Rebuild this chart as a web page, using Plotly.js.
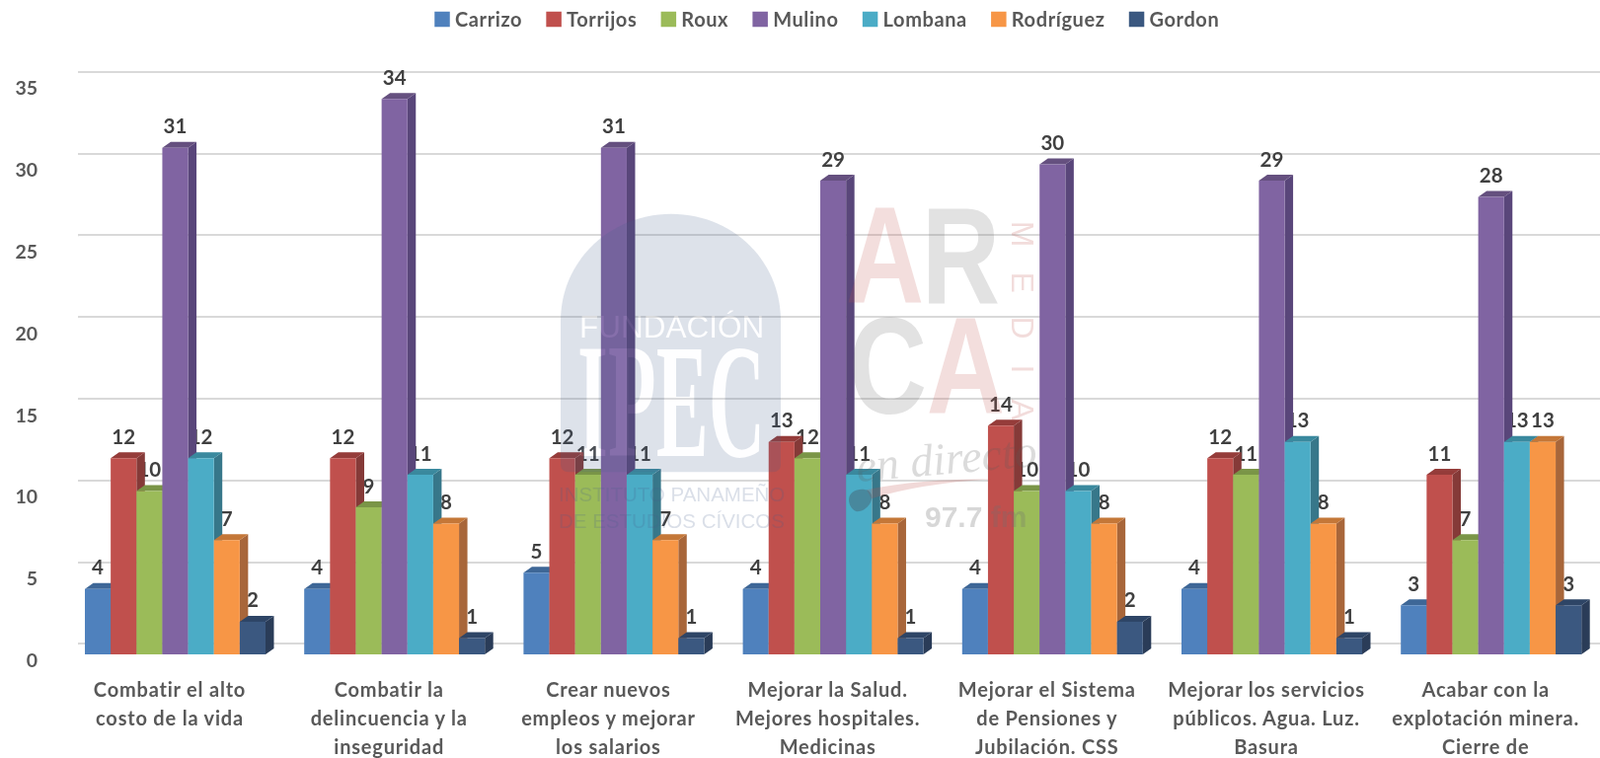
<!DOCTYPE html>
<html><head><meta charset="utf-8">
<script src="https://cdn.plot.ly/plotly-3.0.1.min.js"></script>
<style>html,body{margin:0;padding:0;background:#fff;overflow:hidden}#chart{width:1621px;height:768px}
.xtick text{letter-spacing:.8px}.legendtext{letter-spacing:.6px}</style>
</head><body><div id="chart"></div>
<script>
const categoryLines = [
  ["Combatir el alto","costo de la vida"],
  ["Combatir la","delincuencia y la","inseguridad"],
  ["Crear nuevos","empleos y mejorar","los salarios"],
  ["Mejorar la Salud.","Mejores hospitales.","Medicinas"],
  ["Mejorar el Sistema","de Pensiones y","Jubilación. CSS"],
  ["Mejorar los servicios","públicos. Agua. Luz.","Basura"],
  ["Acabar con la","explotación minera.","Cierre de"]
];
const seriesNames = ["Carrizo","Torrijos","Roux","Mulino","Lombana","Rodríguez","Gordon"];
const carrizo   = [4,4,5,4,4,4,3];
const torrijos  = [12,12,12,13,14,12,11];
const roux      = [10,9,11,12,10,11,7];
const mulino    = [31,34,31,29,30,29,28];
const lombana   = [12,11,11,11,10,13,13];
const rodriguez = [7,8,7,8,8,8,13];
const gordon    = [2,1,1,1,2,1,3];
const seriesValues = [carrizo,torrijos,roux,mulino,lombana,rodriguez,gordon];
const frontColors = ["#4F81BD","#C0504D","#9BBB59","#8064A2","#4BACC6","#F79646","#3B5880"];
const topColors   = ["#3E6797","#953C3A","#7A9547","#65507F","#3A899E","#C47738","#2E4566"];
const sideColors  = ["#37597F","#853A38","#6C8340","#59467A","#37778A","#A8663A","#2A3C58"];
const yTicks = [0,5,10,15,20,25,30,35];

/* page geometry */
const L=79, R=1621, T=40, B=663, unitY=16.58, unitX=222.2, center0=177.5;
const xRange=[(L-center0)/unitX,(R-center0)/unitX];
const frontRange=[0,(B-T)/unitY];
const backBase=652.3;
const backRange=[(backBase-B)/unitY,(backBase-T)/unitY];
const groupW=183/unitX, barW=groupW/7, depthX=8.5/unitX, depthY=6/unitY, labelLift=1.18, tickNudge=5.5/unitX;
const px=x=>(x-L)/(R-L), py=y=>(B-y)/(B-T);

const traces=[];
const barLeft=(c,i)=>c-groupW/2+i*barW;
/* data labels sit lowest: neighbouring 3D faces cover them */
seriesValues.forEach((vals,i)=>{
  traces.push({type:'scatter',mode:'text',x:vals.map((_,c)=>barLeft(c,i)+barW/2),y:vals.map(v=>v+labelLift),
    text:vals.map(String),textposition:'middle center',cliponaxis:false,
    textfont:{family:'Lato, "Open Sans", sans-serif',size:20.5,weight:700,color:'#404040'},showlegend:false,hoverinfo:'skip'});
});
/* 3D side and top faces */
seriesValues.forEach((vals,i)=>{
  const sx=[],sy=[],tx=[],ty=[];
  vals.forEach((v,c)=>{
    const l=barLeft(c,i),r=l+barW;
    sx.push(r,r+depthX,r+depthX,r,r,null); sy.push(0,depthY,v+depthY,v,0,null);
    tx.push(l,l+depthX,r+depthX,r,l,null); ty.push(v,v+depthY,v+depthY,v,v,null);
  });
  traces.push({type:'scatter',mode:'lines',x:sx,y:sy,fill:'toself',fillcolor:sideColors[i],line:{width:0},showlegend:false,hoverinfo:'skip'});
  traces.push({type:'scatter',mode:'lines',x:tx,y:ty,fill:'toself',fillcolor:topColors[i],line:{width:0},showlegend:false,hoverinfo:'skip'});
});
/* wall grid and its diagonal floor ticks */
const dx=[],dy=[];
yTicks.forEach(v=>{dx.push(xRange[0]-22/unitX,xRange[0],null);dy.push(v-16/unitY,v,null);});
traces.push({type:'scatter',mode:'lines',x:dx,y:dy,yaxis:'y3',cliponaxis:false,line:{color:'#D9D9D9',width:2},showlegend:false,hoverinfo:'skip'});
/* front faces */
seriesValues.forEach((vals,i)=>{
  traces.push({type:'bar',name:seriesNames[i],x:vals.map((_,c)=>c),y:vals,yaxis:'y2',marker:{color:frontColors[i],line:{width:0}}});
});

const wrapLine=l=>'<span style="font-size:20px">'+l+'</span>';
const tickText=categoryLines.map(ls=>ls.map(wrapLine).join('<br>'));

const note=(text,x,y,size,color,extra)=>Object.assign({text,x:px(x),y:py(y),xref:'paper',yref:'paper',showarrow:false,
  xanchor:'center',yanchor:'middle',font:{family:'Liberation Sans',size,color}},extra||{});
const P=(pts)=>pts.map(s=>typeof s==='string'?s:(px(s[0]).toFixed(5)+','+py(s[1]).toFixed(5))).join(' ');
const pink='rgba(192,80,77,0.19)', grey='rgba(110,110,110,0.2)';
const big=c=>({font:{family:'Liberation Sans',size:140,weight:700,color:c}});
const annotations=[
  note('A',896,258,140,pink,big(pink)),
  note('R',973,258,140,grey,big(grey)),
  note('C',899,370,140,grey,big(grey)),
  note('A',978,370,140,pink,big(pink)),
  note('M',1036,236,32,'rgba(192,80,77,0.2)',{textangle:90}),
  note('E',1036,285,32,'rgba(192,80,77,0.2)',{textangle:90}),
  note('D',1036,331,32,'rgba(192,80,77,0.2)',{textangle:90}),
  note('I',1036,373,32,'rgba(192,80,77,0.2)',{textangle:90}),
  note('A',1036,415,32,'rgba(192,80,77,0.2)',{textangle:90}),
  note('en directo',959,464,46,'rgba(90,90,90,0.22)',{textangle:-5,font:{family:'Liberation Serif',size:46,style:'italic',color:'rgba(90,90,90,0.22)'}}),
  note('97.7 fm',988,523,30,'rgba(110,110,110,0.28)',{font:{family:'Liberation Sans',size:30,weight:700,color:'rgba(110,110,110,0.28)'}}),
  note('INSTITUTO PANAMEÑO',680,500,20.5,'rgba(68,97,138,0.2)'),
  note('DE ESTUDIOS CÍVICOS',680,527,20.5,'rgba(68,97,138,0.2)'),
  note('FUNDACIÓN',680,330,31.5,'rgb(33,28,21)'),
  note('IPEC',680,406,165,'rgb(33,28,21)',{font:{family:'Liberation Serif',size:165,weight:700,color:'rgb(33,28,21)'}})
];
const arch='M '+P([[568,470]])+' L '+P([[568,325]])+' C '+P([[568,262],[620,216],[680,216]])+' C '+P([[741,216],[791,262],[791,325]])+
  ' L '+P([[791,470]])+' Q '+P([[791,478],[783,478]])+' L '+P([[576,478]])+' Q '+P([[568,478],[568,470]])+' Z';
const swoosh='M '+P([[878,496]])+' Q '+P([[930,485],[1005,485]])+' Q '+P([[930,490],[883,505]])+' Z';
const dot='M '+P([[860,506]])+' C '+P([[860,497],[872,493],[880,497]])+' C '+P([[888,503],[880,518],[868,518]])+' C '+P([[864,517],[860,512],[860,506]])+' Z';
const shapes=[
  {type:'path',xref:'paper',yref:'paper',path:arch,fillcolor:'rgba(68,97,138,0.18)',line:{width:0},layer:'above'},
  {type:'path',xref:'paper',yref:'paper',path:swoosh,fillcolor:'rgba(192,80,77,0.22)',line:{width:0},layer:'above'},
  {type:'path',xref:'paper',yref:'paper',path:dot,fillcolor:'rgba(70,85,100,0.42)',line:{width:0},layer:'above'}
];

const layout={
  width:1621,height:768,paper_bgcolor:'#fff',plot_bgcolor:'rgba(0,0,0,0)',
  margin:{l:L,r:0,t:T,b:768-B,pad:0},
  barmode:'group',bargap:1-groupW,bargroupgap:0,
  font:{family:'Lato, "Open Sans", sans-serif',color:'#595959'},
  showlegend:true,
  legend:{orientation:'h',x:px(838),xanchor:'center',y:py(18.6),yanchor:'middle',itemgap:2,
    font:{family:'Lato, "Open Sans", sans-serif',size:20,weight:700,color:'#595959'},bgcolor:'rgba(0,0,0,0)',traceorder:'normal'},
  xaxis:{range:xRange,tickmode:'array',tickvals:categoryLines.map((_,i)=>i-tickNudge),ticktext:tickText,tickangle:0,
    showgrid:false,zeroline:false,showline:false,ticks:'outside',ticklen:15,tickcolor:'rgba(0,0,0,0)',
    tickfont:{family:'Lato, "Open Sans", sans-serif',size:22.4,weight:700,color:'#595959'}},
  yaxis:{range:frontRange,tickmode:'array',tickvals:yTicks,showgrid:false,zeroline:false,showline:false,
    ticks:'outside',ticklen:36,tickcolor:'rgba(0,0,0,0)',ticklabelshift:6,
    tickfont:{family:'Lato, "Open Sans", sans-serif',size:19.5,weight:700,color:'#595959'}},
  yaxis2:{range:frontRange,overlaying:'y',visible:false},
  yaxis3:{range:backRange,overlaying:'y',tickmode:'array',tickvals:yTicks,showgrid:true,gridcolor:'#D9D9D9',gridwidth:2,
    zeroline:false,showline:false,showticklabels:false,ticks:''},
  annotations,shapes
};
const gd=document.getElementById('chart');
const squeeze=(t,k)=>{const b=t.getBBox(),cx=b.x+b.width/2;t.setAttribute('transform','translate('+(cx*(1-k))+',0) scale('+k+',1)');};
Plotly.newPlot(gd,traces,layout,{displayModeBar:false,responsive:false}).then(()=>{
  /* legend keys: larger swatch, closer text */
  gd.querySelectorAll('.legend .traces').forEach(g=>{
    const p=g.querySelector('.legendpoints path'); if(p) p.setAttribute('d','M7.75,7.75H-7.75V-7.75H7.75Z');
    const t=g.querySelector('.legendtext'); if(t) t.setAttribute('x',parseFloat(t.getAttribute('x'))-7);
  });
  /* logo lettering: narrowed; IPEC/FUNDACIÓN dodged so they read as cut-outs of the tinted arch */
  const host=gd.querySelector('.main-svg');
  const upper=gd.querySelector('.layer-above .shapelayer');
  if(upper) host.appendChild(upper);
  gd.querySelectorAll('.annotation').forEach(a=>{
    const t=a.querySelector('text'); if(!t) return;
    const s=t.textContent;
    if(s==='IPEC'||s==='FUNDACIÓN'){
      host.appendChild(a);
      a.style.mixBlendMode='color-dodge';
      if(s==='IPEC') squeeze(t,190/t.getBBox().width);
    } else if(t.getAttribute('style')&&/font-size:\s*140px/.test(t.getAttribute('style'))){
      squeeze(t,0.785);
    }
  });
});
</script></body></html>
